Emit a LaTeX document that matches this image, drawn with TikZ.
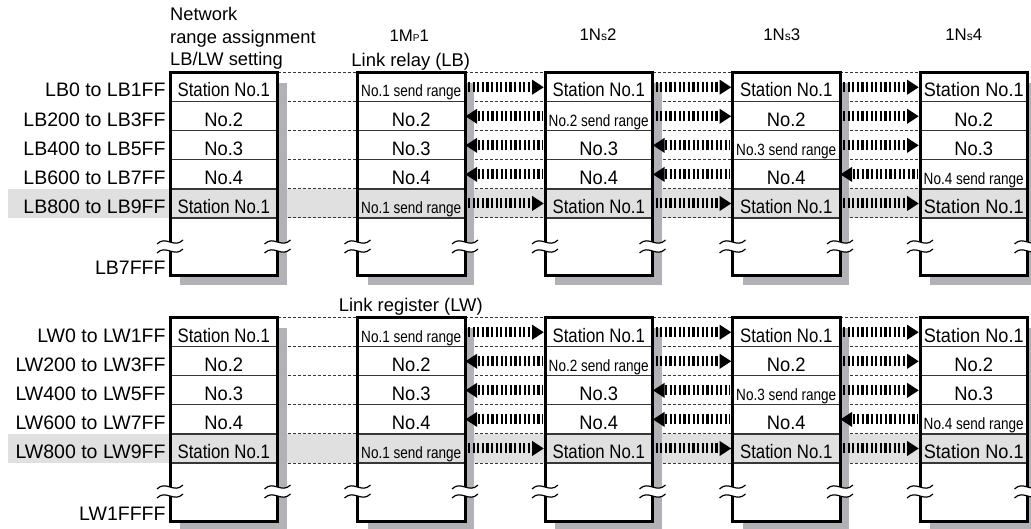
\documentclass[tikz,border=0pt]{standalone}
\usepackage{fontspec}
\setmainfont{Liberation Sans}
\usepackage{graphicx}
\usetikzlibrary{calc}
\pgfdeclarelayer{bg}
\pgfdeclarelayer{dashl}
\pgfdeclarelayer{shad}
\pgfsetlayers{bg,dashl,shad,main}
\definecolor{bandgray}{RGB}{224,224,225}
\definecolor{shadowgray}{RGB}{178,178,182}
\definecolor{rulegray}{RGB}{55,55,55}
\newcommand\ftn{\fontsize{19.5}{22}\selectfont}
\newcommand\fsm{\fontsize{16.3}{18}\selectfont}
\newcommand\stnx[1]{\ifnum#1=4 \scalebox{0.93}[1]{Station No.1}\else\scalebox{0.86}[1]{Station No.1}\fi}
\newcommand\nox[1]{\scalebox{0.94}[1]{No.#1}}
\newcommand\sndx[1]{{\fsm\scalebox{0.83}[1]{No.#1 send range}}}
\newcommand\celltxt[2]{%
  \ifnum#2=1 \ifnum#1=1 \sndx{1}\else\stnx{#1}\fi
  \else\ifnum#2=5 \ifnum#1=1 \sndx{1}\else\stnx{#1}\fi
  \else\ifnum#1=#2 \sndx{#2}\else\nox{#2}\fi\fi\fi}
\newcommand\rarrow[2]{%
  \draw[shaft] ([xshift=3pt]#1.east) -- ([xshift=-12.8pt]#2.west);
  \fill ([xshift=-1.3pt]#2.west) -- ++(-11.5pt,7.5pt) -- ++(0pt,-15pt) -- cycle;}
\newcommand\larrow[2]{%
  \fill ([xshift=0.5pt]#1.east) -- ++(11.5pt,7.5pt) -- ++(0pt,-15pt) -- cycle;
  \draw[shaft] ([xshift=12.5pt]#1.east) -- ([xshift=-3pt]#2.west);}
\tikzset{
  framebox/.style={minimum width=107.5pt, fill=white, inner sep=0pt, outer sep=0pt},
  outline/.style={draw=black, line width=3pt},
  cell/.style={draw=rulegray, line width=1.2pt, minimum width=107.5pt, minimum height=29.06pt,
    text height=24.3pt, text depth=4.76pt, inner sep=0pt, outer sep=0pt, font=\ftn, text=black},
  dotline/.style={draw=rulegray, line width=1pt, dash pattern=on 3pt off 2pt},
  shaft/.style={draw=black, line width=10pt, dash pattern=on 2.2pt off 2.4pt},
  lbl/.style={font=\ftn, anchor=base east, inner sep=0pt},
  hdr/.style={font=\fontsize{18.3}{22}\selectfont, anchor=base west, inner sep=0pt},
  sthdr/.style={font=\fontsize{16.8}{20}\selectfont, anchor=base, inner sep=0pt},
  linkhdr/.style={font=\fontsize{18.4}{22}\selectfont, anchor=base, inner sep=0pt},
  brk/.pic={
    \fill[white] (-13,2) .. controls (-4,-7) and (4,7) .. (13,-2) -- (13,7) .. controls (4,16) and (-4,2) .. (-13,11) -- cycle;
    \draw[line width=1.2pt] (-13,2) .. controls (-4,-7) and (4,7) .. (13,-2);
    \draw[line width=1.2pt] (-13,11) .. controls (-4,2) and (4,16) .. (13,7);
  }
}
\begin{document}
\begin{tikzpicture}[x=1pt,y=-1pt]
\useasboundingbox (0,0) rectangle (1031,529);
\begin{pgfonlayer}{bg}
  \fill[white] (0,0) rectangle (1031,529);
  \fill[bandgray] (8,189.0) rectangle (1031,218.1);
  \fill[bandgray] (8,434.0) rectangle (1031,463.1);
\end{pgfonlayer}

% headers
\node[hdr] (hn1) at (170,20.5) {Network};
\node[hdr] (hn2) at (170,43.5) {range assignment};
\node[hdr] (hn3) at (170,66) {LB/LW setting};
\node[sthdr] (hs1) at (409.2,42) {1M{\fontsize{10}{12}\selectfont P}1};
\node[sthdr] (hs2) at (598,41) {1N{\fontsize{12}{14}\selectfont s}2};
\node[sthdr] (hs3) at (781.7,41) {1N{\fontsize{12}{14}\selectfont s}3};
\node[sthdr] (hs4) at (963.8,41) {1N{\fontsize{12}{14}\selectfont s}4};
\node[linkhdr] (hlb) at (410.8,66.5) {Link relay (LB)};
\node[linkhdr] (hlw) at (410.8,312) {Link register (LW)};

\foreach \blk/\T/\B/\pre/\endl in {a/72.7/276/LB/LB7FFF, b/317.7/521/LW/LW1FFFF}{
  \pgfmathsetmacro\cy{(\T+\B)/2}
  \pgfmathsetmacro\fh{\B-\T}
  \foreach \ci in {0,...,4}{
    \pgfmathsetmacro\cx{223.75+187.5*\ci}
    \node[framebox, minimum height=\fh pt] (\blk-f-\ci) at (\cx,\cy) {};
    \begin{pgfonlayer}{shad}
      \fill[shadowgray] ([shift={(10pt,-10pt)}]\blk-f-\ci.north west) rectangle ([shift={(9pt,-9pt)}]\blk-f-\ci.south east);
    \end{pgfonlayer}
    \foreach \ri in {1,...,5}{
      \pgfmathsetmacro\ry{\T+(\ri-0.5)*29.06}
      \ifnum\ri=5
        \node[cell, fill=bandgray] (\blk-c\ci-\ri) at (\cx,\ry) {\celltxt{\ci}{\ri}};
      \else
        \node[cell, fill=white] (\blk-c\ci-\ri) at (\cx,\ry) {\celltxt{\ci}{\ri}};
      \fi
    }
    \draw[outline] (\blk-f-\ci.north west) rectangle (\blk-f-\ci.south east);
    \pic at ([yshift=34pt]\blk-f-\ci.south west) {brk};
    \pic at ([yshift=34pt]\blk-f-\ci.south east) {brk};
  }
  \begin{pgfonlayer}{dashl}
    \foreach \ci/\cn in {0/1,1/2,2/3,3/4}{
      \draw[dotline] (\blk-c\ci-1.north east) -- (\blk-c\cn-1.north west);
      \foreach \ri in {1,...,5}{
        \draw[dotline] (\blk-c\ci-\ri.south east) -- (\blk-c\cn-\ri.south west);
      }
    }
  \end{pgfonlayer}
  \foreach \ri in {1,...,5}{
    \foreach \g/\gn in {1/2,2/3,3/4}{
      \ifnum\ri=5
        \rarrow{\blk-c\g-\ri}{\blk-c\gn-\ri}
      \else
        \ifnum\g<\ri
          \larrow{\blk-c\g-\ri}{\blk-c\gn-\ri}
        \else
          \rarrow{\blk-c\g-\ri}{\blk-c\gn-\ri}
        \fi
      \fi
    }
  }
  \foreach \ri/\lt in {1/{\pre0 to \pre1FF},2/{\pre200 to \pre3FF},3/{\pre400 to \pre5FF},4/{\pre600 to \pre7FF},5/{\pre800 to \pre9FF}}{
    \node[lbl] (\blk-lab-\ri) at ([xshift=-4.3pt]\blk-c0-\ri.base west) {\lt};
  }
  \node[lbl] (\blk-end) at ([xshift=-4.3pt,yshift=1pt]\blk-f-0.south west) {\endl};
}
\end{tikzpicture}
\end{document}
